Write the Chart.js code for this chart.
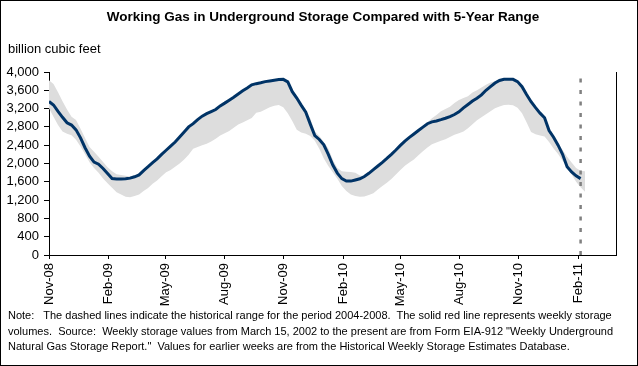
<!DOCTYPE html>
<html>
<head>
<meta charset="utf-8">
<script src="https://cdn.jsdelivr.net/npm/chart.js@4.4.1/dist/chart.umd.min.js"></script>
<style>
  body { margin: 0; background: #fff; }
  #chart { position: absolute; left: 0; top: 0; }
  #frame { position: absolute; left: 0; top: 0; width: 638px; height: 366px; border: 1px solid #000; box-sizing: border-box; pointer-events: none; }
  .txt { position: absolute; font-family: "Liberation Sans", Arial, sans-serif; color: #000; white-space: pre; }
  #title { left: 8px; width: 630px; top: 9px; text-align: center; font-weight: bold; font-size: 13.5px; line-height: 16px; }
  #unit { left: 8px; top: 41px; font-size: 13px; line-height: 16px; }
  #note { left: 8px; top: 308px; font-size: 11px; line-height: 15.5px; }
</style>
</head>
<body>
<canvas id="chart" width="638" height="366"></canvas>
<div id="title" class="txt">Working Gas in Underground Storage Compared with 5-Year Range</div>
<div id="unit" class="txt">billion cubic feet</div>
<div id="note" class="txt">Note:   The dashed lines indicate the historical range for the period 2004-2008.  The solid red line represents weekly storage
volumes.  Source:  Weekly storage values from March 15, 2002 to the present are from Form EIA-912 "Weekly Underground
Natural Gas Storage Report."  Values for earlier weeks are from the Historical Weekly Storage Estimates Database.</div>
<div id="frame"></div>
<script>
// axis dates (first of month) and their labels
const axisStart = '2008-11-01';
const axisEnd = '2011-04-01';
const tickDates = ['2008-11-01', '2009-02-01', '2009-05-01', '2009-08-01', '2009-11-01',
  '2010-02-01', '2010-05-01', '2010-08-01', '2010-11-01', '2011-02-01'];
const tickLabels = ['Nov-08', 'Feb-09', 'May-09', 'Aug-09', 'Nov-09',
  'Feb-10', 'May-10', 'Aug-10', 'Nov-10', 'Feb-11'];

// weekly working gas, billion cubic feet (first week at axis start)
const storage = [
  3354, 3280, 3140, 3010, 2890, 2840, 2735, 2560, 2345, 2160,
  2030, 1985, 1890, 1780, 1670, 1660, 1660, 1665, 1680, 1710,
  1750, 1845, 1930, 2020, 2100, 2200, 2290, 2380, 2470, 2580,
  2690, 2800, 2870, 2960, 3035, 3090, 3136, 3180, 3260, 3320,
  3385, 3450, 3520, 3590, 3650, 3720, 3745, 3765, 3790, 3805,
  3820, 3835, 3840, 3785, 3570, 3430, 3270, 3120, 2860, 2610,
  2525, 2410, 2200, 1965, 1790, 1670, 1615, 1615, 1640, 1665,
  1715, 1785, 1865, 1945, 2025, 2110, 2200, 2295, 2395, 2490,
  2570, 2645, 2720, 2795, 2870, 2910, 2930, 2958, 2990, 3025,
  3070, 3130, 3215, 3290, 3365, 3425, 3500, 3600, 3680, 3760,
  3815, 3840, 3842, 3840, 3790, 3680, 3510, 3350, 3220, 3100,
  3000, 2720, 2575, 2400, 2200, 1930, 1815, 1730, 1670
];

// 5-year range (2004-2008), weekly max and min
const rangeMax = [
  3820, 3740, 3560, 3360, 3180, 3020, 2950, 2760, 2560, 2360,
  2255, 2150, 2035, 1920, 1830, 1765, 1750, 1730, 1715, 1735,
  1750, 1830, 1910, 2000, 2080, 2180, 2270, 2360, 2450, 2560,
  2670, 2780, 2850, 2940, 3015, 3070, 3115, 3160, 3240, 3300,
  3365, 3430, 3500, 3570, 3630, 3700, 3725, 3745, 3770, 3785,
  3800, 3815, 3820, 3770, 3560, 3420, 3270, 3110, 2990, 2700,
  2600, 2470, 2330, 2080, 1900, 1830, 1820, 1815, 1800, 1740,
  1720, 1770, 1850, 1930, 2010, 2095, 2185, 2280, 2380, 2475,
  2555, 2630, 2705, 2785, 2900, 2990, 3060, 3140, 3190, 3240,
  3320, 3390, 3430, 3470, 3550, 3600, 3660, 3720, 3770, 3800,
  3830, 3840, 3840, 3835, 3790, 3700, 3550, 3400, 3260, 3120,
  3020, 2780, 2620, 2420, 2300, 2150, 2020, 1900, 1840, 1830
];
const rangeMin = [
  3210, 3020, 2840, 2700, 2650, 2620, 2520, 2370, 2200, 2030,
  1900, 1800, 1670, 1570, 1470, 1370, 1320, 1275, 1265, 1290,
  1320, 1400, 1465, 1560, 1630, 1720, 1810, 1860, 1930, 2000,
  2090, 2190, 2320, 2360, 2400, 2430, 2480, 2540, 2610, 2660,
  2710, 2780, 2850, 2895, 2945, 2995, 3110, 3130, 3180, 3230,
  3265, 3280, 3230, 3100, 2930, 2740, 2680, 2650, 2600, 2500,
  2320, 2110, 1945, 1810, 1665, 1510, 1400, 1320, 1290, 1275,
  1280, 1310, 1350, 1430, 1510, 1580, 1660, 1760, 1860, 1950,
  2020, 2085, 2180, 2270, 2350, 2420, 2460, 2500, 2530, 2580,
  2630, 2660, 2700, 2770, 2860, 2945, 3010, 3075, 3140, 3205,
  3245, 3280, 3285, 3275, 3220, 3100, 2900, 2690, 2640, 2610,
  2590, 2470, 2330, 2210, 2060, 1930, 1760, 1600, 1480, 1380
];

const FONT = '"Liberation Sans", Arial, sans-serif';

function dayOf(s) {
  return (Date.parse(s) - Date.parse(axisStart)) / 86400000;
}

const tickDays = tickDates.map(dayOf);
const weekDay = i => i * 7;
const lastDay = weekDay(storage.length - 1);

const linePts = storage.map((v, i) => ({ x: weekDay(i), y: v }));
const maxPts = rangeMax.map((v, i) => ({ x: weekDay(i), y: v }));
const minPts = rangeMin.map((v, i) => ({ x: weekDay(i), y: v }));

new Chart(document.getElementById('chart'), {
  type: 'line',
  data: {
    datasets: [
      {
        data: minPts, borderWidth: 0, pointRadius: 0, fill: false,
        borderColor: 'rgba(0,0,0,0)', order: 3
      },
      {
        data: maxPts, borderWidth: 0, pointRadius: 0, fill: '-1',
        borderColor: 'rgba(0,0,0,0)', backgroundColor: '#dddddd', order: 2
      },
      {
        data: linePts, borderColor: '#003366', borderWidth: 3, pointRadius: 0,
        tension: 0, fill: false, order: 1
      },
      {
        // current week marker
        data: [{ x: lastDay, y: 0 }, { x: lastDay, y: 4000 }],
        borderColor: '#808080', borderWidth: 2.5, borderDash: [4, 7.5],
        pointRadius: 0, fill: false, order: 0
      }
    ]
  },
  options: {
    responsive: false,
    animation: false,
    layout: { padding: { top: 72, right: 22, left: 0, bottom: 0 } },
    plugins: { legend: { display: false }, tooltip: { enabled: false } },
    scales: {
      x: {
        type: 'linear',
        min: 0,
        max: dayOf(axisEnd),
        afterBuildTicks: s => { s.ticks = tickDays.map(v => ({ value: v })); },
        afterFit: s => { s.height = 111; },
        ticks: {
          autoSkip: false, minRotation: 90, maxRotation: 90, padding: 4,
          color: '#000', font: { family: FONT, size: 13 },
          callback: v => tickLabels[tickDays.indexOf(v)]
        },
        grid: { drawOnChartArea: false, tickLength: 4, color: '#000' },
        border: { color: '#000', width: 1 }
      },
      y: {
        min: 0, max: 4000,
        afterFit: s => { s.width = 49; },
        ticks: {
          stepSize: 400, autoSkip: false, padding: 5, color: '#000',
          font: { family: FONT, size: 13 },
          callback: v => v.toLocaleString('en-US')
        },
        grid: { drawOnChartArea: false, tickLength: 5, color: '#000' },
        border: { color: '#000', width: 1 }
      },
      y2: {
        position: 'right', min: 0, max: 4000,
        afterFit: s => { s.width = 0; },
        ticks: { display: false },
        grid: { display: false },
        border: { color: '#000', width: 1 }
      }
    }
  }
});
</script>
</body>
</html>
